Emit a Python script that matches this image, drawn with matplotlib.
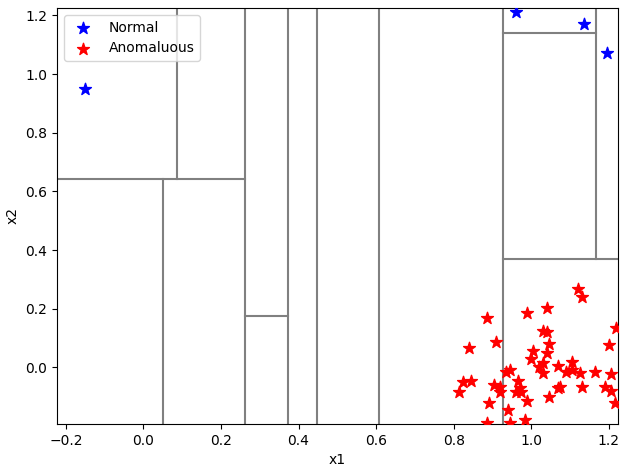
import matplotlib
matplotlib.use('Agg')
import matplotlib.pyplot as plt

# Normal points (blue)
normal_x = [-0.15, 0.96, 1.135, 1.195]
normal_y = [0.948, 1.21, 1.17, 1.072]

# Anomalous points (red)
anom_x = [0.887, 0.99, 1.04, 1.12, 1.13, 1.22, 0.84, 0.91, 1.03, 1.04,
          1.045, 1.2, 1.005, 1.0, 1.04, 1.03, 1.02, 1.07, 1.105, 1.105,
          1.09, 1.03, 1.125, 1.165, 1.205, 0.935, 0.945, 0.825, 0.845, 0.965,
          0.905, 0.92, 0.97, 1.07, 1.075, 1.13, 1.19, 0.815, 0.92, 0.96,
          0.975, 1.205, 1.045, 0.89, 0.99, 1.215, 0.94, 0.885, 0.945, 0.985]
anom_y = [0.17, 0.187, 0.203, 0.268, 0.24, 0.135, 0.065, 0.088, 0.125, 0.12,
          0.08, 0.075, 0.055, 0.03, 0.05, 0.015, 0.0, 0.005, 0.02, -0.01,
          -0.015, -0.02, -0.02, -0.015, -0.022, -0.015, -0.01, -0.05, -0.045, -0.045,
          -0.06, -0.065, -0.07, -0.07, -0.065, -0.065, -0.065, -0.085, -0.085, -0.085,
          -0.085, -0.08, -0.1, -0.12, -0.115, -0.12, -0.145, -0.19, -0.19, -0.18]

xmin, xmax = -0.223, 1.224
ymin, ymax = -0.192, 1.225

# isolation tree splits: vertical (x, y0, y1), horizontal (y, x0, x1)
vsplits = [(0.263, ymin, ymax), (0.087, 0.644, ymax), (0.051, ymin, 0.644),
           (0.372, ymin, ymax), (0.447, ymin, ymax), (0.608, ymin, ymax),
           (0.928, ymin, ymax), (1.166, 0.368, ymax)]
hsplits = [(0.644, xmin, 0.263), (0.177, 0.263, 0.372),
           (0.368, 0.928, xmax), (1.139, 0.928, 1.166)]

fig, ax = plt.subplots(figsize=(6.23, 4.73), dpi=100)
fig.subplots_adjust(left=0.0915, right=0.992, top=0.983, bottom=0.104)
for x, y0, y1 in vsplits:
    ax.plot([x, x], [y0, y1], color='gray', lw=1.5)
for y, x0, x1 in hsplits:
    ax.plot([x0, x1], [y, y], color='gray', lw=1.5)

ax.scatter(normal_x, normal_y, marker='*', s=80, color='blue', label='Normal', zorder=3)
ax.scatter(anom_x, anom_y, marker='*', s=80, color='red', label='Anomaluous', zorder=3)

ax.set_xlim(xmin, xmax)
ax.set_ylim(ymin, ymax)
ax.set_xlabel('x1')
ax.set_ylabel('x2')
ax.legend(loc='upper left')
plt.savefig('out.png', dpi=100)
